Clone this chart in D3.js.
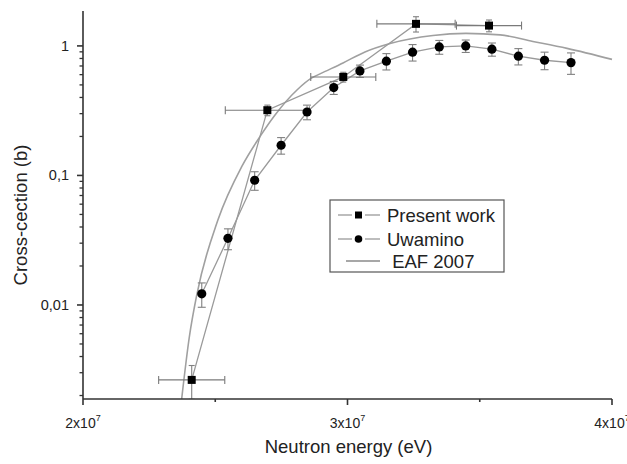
<!DOCTYPE html>
<html>
<head>
<meta charset="utf-8">
<script src="https://cdn.jsdelivr.net/npm/d3@7"></script>
<style>
  body { margin: 0; background: #fff; }
  svg { display: block; font-family: "Liberation Sans", Arial, sans-serif; }
</style>
</head>
<body>
<svg id="chart" width="627" height="464"></svg>
<script>
// Present work: energy (eV), cross-section (b) and their uncertainties
const presentE        = [2.411e7, 2.697e7, 2.984e7, 3.259e7, 3.535e7];
const presentSigma    = [0.00264, 0.319, 0.576, 1.48, 1.435];
const presentEErr     = [1.25e6, 1.59e6, 1.23e6, 1.48e6, 1.23e6];
const presentSigmaErr = [0.00077, 0.03, 0.05, 0.2, 0.15];

// Uwamino data
const uwaminoE     = [2.449e7, 2.548e7, 2.649e7, 2.749e7, 2.847e7, 2.948e7, 3.047e7, 3.147e7,
                      3.246e7, 3.347e7, 3.447e7, 3.546e7, 3.646e7, 3.745e7, 3.845e7];
const uwaminoSigma = [0.0122, 0.0327, 0.0918, 0.171, 0.309, 0.477, 0.641, 0.762,
                      0.894, 0.982, 1.0, 0.943, 0.833, 0.775, 0.743];
const uwaminoErr   = [0.0026, 0.006, 0.015, 0.025, 0.04, 0.055, 0.07, 0.11,
                      0.13, 0.12, 0.11, 0.11, 0.12, 0.12, 0.14];

// EAF 2007 evaluated excitation function
const eafE     = [2.373e7, 2.402e7, 2.431e7, 2.510e7, 2.600e7, 2.669e7, 2.726e7, 2.809e7,
                  2.865e7, 2.896e7, 2.983e7, 3.066e7, 3.161e7, 3.323e7, 3.448e7, 3.577e7,
                  3.701e7, 3.830e7, 4.000e7];
const eafSigma = [0.00188, 0.00566, 0.0122, 0.0453, 0.117, 0.1995, 0.293, 0.457,
                  0.566, 0.608, 0.739, 0.899, 1.045, 1.205, 1.249, 1.216,
                  1.083, 0.957, 0.787];

// Axis ticks and labels
const xMajorTicks = [2e7, 3e7, 4e7];
const xMinorTicks = [2.5e7, 3.5e7];
const xTickMantissa = ["2", "3", "4"];
const yMajorTicks = [0.01, 0.1, 1];
const yTickLabels = ["0,01", "0,1", "1"];
const xTitle = "Neutron energy (eV)";
const yTitle = "Cross-cection (b)";
const legendLabels = ["Present work", "Uwamino", " EAF 2007"];

const svg = d3.select("#chart");
const plotL = 83, plotR = 612, plotT = 11, plotB = 399;

const x = d3.scaleLinear().domain([2e7, 4e7]).range([plotL, plotR]);
const y = d3.scaleLog().domain([0.00188, 1.86]).range([plotB, plotT]);

const lineGray = "#9a9a9a";
const axisColor = "#333";

// Clip for the data area
svg.append("defs").append("clipPath").attr("id", "plotclip")
  .append("rect").attr("x", plotL).attr("y", plotT).attr("width", plotR - plotL + 20).attr("height", plotB - plotT);

const plot = svg.append("g").attr("clip-path", "url(#plotclip)");

// EAF curve
const eafPts = eafE.map((e, i) => [e, eafSigma[i]]);
plot.append("path")
  .datum(eafPts)
  .attr("fill", "none").attr("stroke", "#a0a0a0").attr("stroke-width", 1.6)
  .attr("d", d3.line().x(d => x(d[0])).y(d => y(d[1])).curve(d3.curveMonotoneX));

// Connecting lines
const lin = d3.line().x(d => x(d[0])).y(d => y(d[1]));
const presPts = presentE.map((e, i) => [e, presentSigma[i]]);
const uwaPts = uwaminoE.map((e, i) => [e, uwaminoSigma[i]]);
plot.append("path").datum(presPts)
  .attr("fill", "none").attr("stroke", lineGray).attr("stroke-width", 1.3).attr("d", lin);
plot.append("path").datum(uwaPts)
  .attr("fill", "none").attr("stroke", lineGray).attr("stroke-width", 1.3).attr("d", lin);

// Error bars
function vErr(g, ex, sy, err, cap) {
  const lo = Math.max(sy - err, 1e-4), hi = sy + err;
  g.append("line").attr("x1", x(ex)).attr("x2", x(ex)).attr("y1", y(lo)).attr("y2", y(hi));
  g.append("line").attr("x1", x(ex) - cap).attr("x2", x(ex) + cap).attr("y1", y(hi)).attr("y2", y(hi));
  g.append("line").attr("x1", x(ex) - cap).attr("x2", x(ex) + cap).attr("y1", y(lo)).attr("y2", y(lo));
}
const errG = plot.append("g").attr("stroke", "#808080").attr("stroke-width", 1.1);
uwaminoE.forEach((e, i) => vErr(errG, e, uwaminoSigma[i], uwaminoErr[i], 4));
presentE.forEach((e, i) => vErr(errG, e, presentSigma[i], presentSigmaErr[i], 3));

const hErrG = plot.append("g").attr("stroke", "#7a7a7a").attr("stroke-width", 1.1);
presentE.forEach((e, i) => {
  const yy = y(presentSigma[i]);
  const x0 = x(e - presentEErr[i]), x1 = x(e + presentEErr[i]);
  hErrG.append("line").attr("x1", x0).attr("x2", x1).attr("y1", yy).attr("y2", yy);
  hErrG.append("line").attr("x1", x0).attr("x2", x0).attr("y1", yy - 4).attr("y2", yy + 4);
  hErrG.append("line").attr("x1", x1).attr("x2", x1).attr("y1", yy - 4).attr("y2", yy + 4);
});

// Markers
plot.selectAll("circle.uwa").data(uwaPts).join("circle")
  .attr("class", "uwa")
  .attr("cx", d => x(d[0])).attr("cy", d => y(d[1])).attr("r", 4.6)
  .attr("fill", "#000");
plot.selectAll("rect.pres").data(presPts).join("rect")
  .attr("class", "pres")
  .attr("x", d => x(d[0]) - 4).attr("y", d => y(d[1]) - 4)
  .attr("width", 8).attr("height", 8).attr("fill", "#000");

// Axes
const axes = svg.append("g").attr("stroke", axisColor).attr("stroke-width", 1.6);
axes.append("line").attr("x1", plotL).attr("x2", plotR).attr("y1", plotB).attr("y2", plotB);
axes.append("line").attr("x1", plotL).attr("x2", plotL).attr("y1", plotT).attr("y2", plotB);

xMajorTicks.forEach(t => axes.append("line")
  .attr("x1", x(t)).attr("x2", x(t)).attr("y1", plotB).attr("y2", plotB + 6));
xMinorTicks.forEach(t => axes.append("line")
  .attr("x1", x(t)).attr("x2", x(t)).attr("y1", plotB).attr("y2", plotB + 3));

yMajorTicks.forEach(t => axes.append("line")
  .attr("x1", plotL - 6).attr("x2", plotL).attr("y1", y(t)).attr("y2", y(t)));
const yMinor = [];
[0.001, 0.01, 0.1, 1].forEach(dec => {
  for (let k = 2; k <= 9; k++) {
    const v = dec * k;
    if (v >= y.domain()[0] && v <= y.domain()[1]) yMinor.push(v);
  }
});
yMinor.forEach(t => axes.append("line").attr("stroke-width", 1.3)
  .attr("x1", plotL - 3.5).attr("x2", plotL).attr("y1", y(t)).attr("y2", y(t)));

// Tick labels
const labels = svg.append("g").attr("fill", "#222");
xMajorTicks.forEach((t, i) => {
  const txt = labels.append("text")
    .attr("x", x(t)).attr("y", plotB + 29)
    .attr("text-anchor", "middle").attr("font-size", 14);
  txt.append("tspan").text(xTickMantissa[i] + "x10");
  txt.append("tspan").attr("font-size", 9).attr("dy", -7).text("7");
});
yMajorTicks.forEach((t, i) => {
  labels.append("text")
    .attr("x", plotL - 14).attr("y", y(t) + 5)
    .attr("text-anchor", "end").attr("font-size", 14.5)
    .text(yTickLabels[i]);
});

// Axis titles
labels.append("text")
  .attr("x", (plotL + plotR) / 2 + 1).attr("y", 453)
  .attr("text-anchor", "middle").attr("font-size", 18.5)
  .text(xTitle);
labels.append("text")
  .attr("transform", `translate(27,${(plotT + plotB) / 2 + 10}) rotate(-90)`)
  .attr("text-anchor", "middle").attr("font-size", 18.5)
  .text(yTitle);

// Legend
const lg = svg.append("g");
lg.append("rect").attr("x", 330).attr("y", 200).attr("width", 174).attr("height", 72)
  .attr("fill", "#fff").attr("stroke", "#555").attr("stroke-width", 1.2);
const rows = [215, 239, 261];
rows.forEach((ry, i) => {
  if (i < 2) {
    lg.append("line").attr("x1", 338).attr("x2", 352).attr("y1", ry).attr("y2", ry)
      .attr("stroke", lineGray).attr("stroke-width", 1.3);
    lg.append("line").attr("x1", 365).attr("x2", 380).attr("y1", ry).attr("y2", ry)
      .attr("stroke", lineGray).attr("stroke-width", 1.3);
    if (i === 0) {
      lg.append("rect").attr("x", 355).attr("y", ry - 3.5).attr("width", 7).attr("height", 7).attr("fill", "#000");
    } else {
      lg.append("circle").attr("cx", 358.5).attr("cy", ry).attr("r", 3.8).attr("fill", "#000");
    }
  } else {
    lg.append("line").attr("x1", 346).attr("x2", 380).attr("y1", ry).attr("y2", ry)
      .attr("stroke", "#8a8a8a").attr("stroke-width", 1.6);
  }
  lg.append("text").attr("x", 387).attr("y", ry + 6.5)
    .attr("font-size", 18.5).attr("fill", "#222")
    .attr("xml:space", "preserve").style("white-space", "pre")
    .text(legendLabels[i]);
});
</script>
</body>
</html>
